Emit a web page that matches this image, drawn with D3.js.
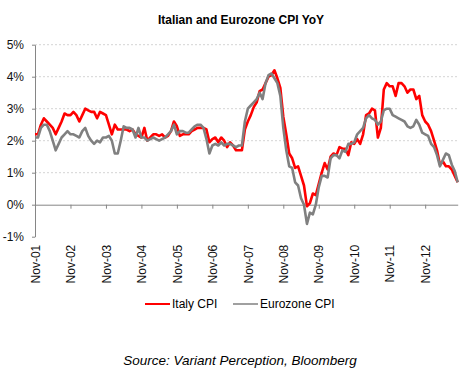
<!DOCTYPE html>
<html>
<head>
<meta charset="utf-8">
<script src="https://cdn.jsdelivr.net/npm/d3@7"></script>
<style>
  body { margin: 0; background: #fff; }
  svg { font-family: "Liberation Sans", Arial, sans-serif; }
</style>
</head>
<body>
<div id="chart"></div>
<script>

// monthly YoY %, Nov-01 .. Oct-13
var italyCPI = [
  2.2, 2.2, 2.5, 2.7, 2.6, 2.5, 2.4, 2.2, 2.4, 2.6, 2.85, 2.8,
  2.8, 2.9, 2.8, 2.6, 2.8, 3.0, 2.95, 2.9, 2.9, 2.7, 2.9, 2.85,
  2.8, 2.5, 2.2, 2.5, 2.35, 2.35, 2.35, 2.35, 2.3, 2.35, 2.2, 2.15,
  2.1, 2.4, 2.0, 2.1, 2.2, 2.2, 2.15, 2.2, 2.1, 2.15, 2.3, 2.6,
  2.45, 2.15, 2.2, 2.2, 2.2, 2.3, 2.35, 2.4, 2.4, 2.4, 2.35, 1.95,
  2.05, 2.1, 1.95, 2.1, 2.0, 1.8, 1.95, 1.85, 1.7, 1.7, 1.7, 2.35,
  2.6, 2.8, 3.05, 3.2, 3.55, 3.6, 3.8, 4.0, 4.05, 4.2, 3.95, 3.65,
  2.75, 2.2, 1.6, 1.45, 1.15, 1.2, 0.9, 0.6, -0.05, 0.05, 0.35, 0.3,
  0.65, 1.0, 1.3, 1.1, 1.5, 1.6, 1.55, 1.8, 1.75, 1.75, 1.55, 1.95,
  1.9, 2.05, 1.9, 2.2, 2.8, 2.85, 3.0, 2.95, 2.1, 2.4, 3.6, 3.8,
  3.7, 3.7, 3.4, 3.8, 3.8, 3.7, 3.5, 3.6, 3.6, 3.3, 3.4, 2.8,
  2.6, 2.5, 2.3, 2.0, 1.7, 1.25, 1.35, 1.2, 1.2, 1.1, 0.9, 0.7
];

var eurozoneCPI = [
  2.1, 2.1, 2.4, 2.5, 2.5, 2.3, 2.0, 1.7, 1.9, 2.1, 2.2, 2.3,
  2.2, 2.2, 2.15, 2.1, 2.3, 2.4, 2.15, 2.0, 1.9, 2.0, 1.95, 2.1,
  2.1, 2.15, 2.0, 1.6, 1.6, 2.0, 2.45, 2.4, 2.4, 2.35, 2.1, 2.4,
  2.1, 2.1, 2.0, 2.05, 2.1, 2.05, 2.0, 2.05, 2.1, 2.2, 2.3, 2.5,
  2.2, 2.3, 2.3, 2.25, 2.25, 2.35, 2.45, 2.5, 2.5, 2.4, 2.05, 1.6,
  1.85, 1.9, 1.85, 1.95, 1.85, 1.9, 1.9, 1.85, 1.8, 1.85, 1.85, 2.6,
  3.0, 3.1, 3.2, 3.3, 3.5, 3.3, 3.8, 4.05, 4.1, 3.95, 3.8, 3.4,
  2.4, 1.7, 1.2, 1.15, 0.7, 0.6, 0.2, 0.0, -0.6, -0.25, -0.3, 0.0,
  0.55, 0.9, 0.9, 0.85, 1.45, 1.55, 1.55, 1.45, 1.7, 1.65, 1.9, 1.9,
  1.95, 2.2, 2.3, 2.4, 2.7, 2.8, 2.7, 2.65, 2.5, 2.6, 2.95, 3.0,
  3.0, 2.8, 2.75, 2.7, 2.65, 2.6, 2.45, 2.4, 2.45, 2.65, 2.5, 2.25,
  2.2, 2.15, 1.9, 1.8, 1.55, 1.2, 1.4, 1.6, 1.55, 1.25, 1.05, 0.7
];

var xTickLabels = ["Nov-01", "Nov-02", "Nov-03", "Nov-04", "Nov-05", "Nov-06",
                   "Nov-07", "Nov-08", "Nov-09", "Nov-10", "Nov-11", "Nov-12"];
var yTicks = [-1, 0, 1, 2, 3, 4, 5];
var seriesNames = ["Italy CPI", "Eurozone CPI"];
var seriesColors = ["#ff0000", "#808080"];


function init(){

	var w = 460;
	var h = 376;

	var left = 35, right = 457.7;
	var top = 44.7, bottom = 236.7;

	var svg = d3.select("#chart")
				.append("svg")
				.attr("width", w)
				.attr("height", h);

	var xScale = d3.scaleLinear()
					.domain([0, italyCPI.length - 1])
					.range([left, right]);

	var yScale = d3.scaleLinear()
					.domain([-1, 5])
					.range([bottom, top]);

	// title
	svg.append("text")
		.attr("x", 241)
		.attr("y", 24)
		.attr("text-anchor", "middle")
		.style("font-size", "12px")
		.style("font-weight", "bold")
		.text("Italian and Eurozone CPI YoY");

	// dotted gridlines
	svg.append("g")
		.selectAll("line")
		.data(yTicks.filter(function(d){ return d > 0; }))
		.enter()
		.append("line")
		.attr("x1", left)
		.attr("x2", right)
		.attr("y1", function(d){ return yScale(d); })
		.attr("y2", function(d){ return yScale(d); })
		.attr("stroke", "#d4d4d4")
		.attr("stroke-width", 1)
		.attr("stroke-dasharray", "2,2");

	// y axis
	var yAxis = d3.axisLeft(yScale)
					.tickValues(yTicks)
					.tickSize(3)
					.tickSizeOuter(0)
					.tickFormat(function(d){ return d + "%"; });

	var gy = svg.append("g")
		.attr("transform", "translate(" + left + ",0)")
		.call(yAxis);
	gy.select(".domain").attr("stroke", "#868686");
	gy.selectAll(".tick line").attr("stroke", "#868686");
	gy.selectAll(".tick text")
		.attr("x", -11)
		.style("font-size", "12px")
		.style("font-family", "Liberation Sans, Arial, sans-serif")
		.attr("fill", "#111");

	// x axis on the zero line, labels down low
	var xAxis = d3.axisBottom(xScale)
					.tickValues(d3.range(0, xTickLabels.length * 12 + 1, 12))
					.tickSize(4)
					.tickSizeOuter(0)
					.tickFormat(function(d){ return xTickLabels[d / 12] || ""; });

	var gx = svg.append("g")
		.attr("transform", "translate(0," + yScale(0) + ")")
		.call(xAxis);
	gx.select(".domain").attr("stroke", "#868686");
	gx.selectAll(".tick line").attr("stroke", "#868686");
	gx.selectAll(".tick text")
		.attr("x", 0)
		.attr("y", 0)
		.attr("dy", "0.35em")
		.attr("text-anchor", "end")
		.attr("transform", "translate(0,40) rotate(-90)")
		.style("font-size", "12px")
		.style("font-family", "Liberation Sans, Arial, sans-serif")
		.attr("fill", "#111");

	// lines (eurozone drawn last, on top)
	var line = d3.line()
				.x(function(d, i){ return xScale(i); })
				.y(function(d){ return yScale(d); });

	[italyCPI, eurozoneCPI].forEach(function(s, k){
		svg.append("path")
			.datum(s)
			.attr("d", line)
			.attr("fill", "none")
			.attr("stroke", seriesColors[k])
			.attr("stroke-width", 2.6)
			.attr("stroke-linejoin", "round");
	});

	// legend
	var legX = [145, 233];
	var leg = svg.append("g")
				.selectAll("g")
				.data(seriesNames)
				.enter()
				.append("g")
				.attr("transform", function(d, i){ return "translate(" + legX[i] + ",304)"; });
	leg.append("line")
		.attr("x1", 0).attr("x2", 25)
		.attr("stroke", function(d, i){ return seriesColors[i]; })
		.attr("stroke-width", function(d, i){ return i == 0 ? 2 : 1.5; });
	leg.append("text")
		.attr("x", 27)
		.attr("dy", "0.35em")
		.style("font-size", "12px")
		.text(function(d){ return d; });

	// source
	svg.append("text")
		.attr("x", 240)
		.attr("y", 365)
		.attr("text-anchor", "middle")
		.style("font-size", "13.5px")
		.style("font-style", "italic")
		.text("Source: Variant Perception, Bloomberg");

}

window.onload = init;
</script>
</body>
</html>
